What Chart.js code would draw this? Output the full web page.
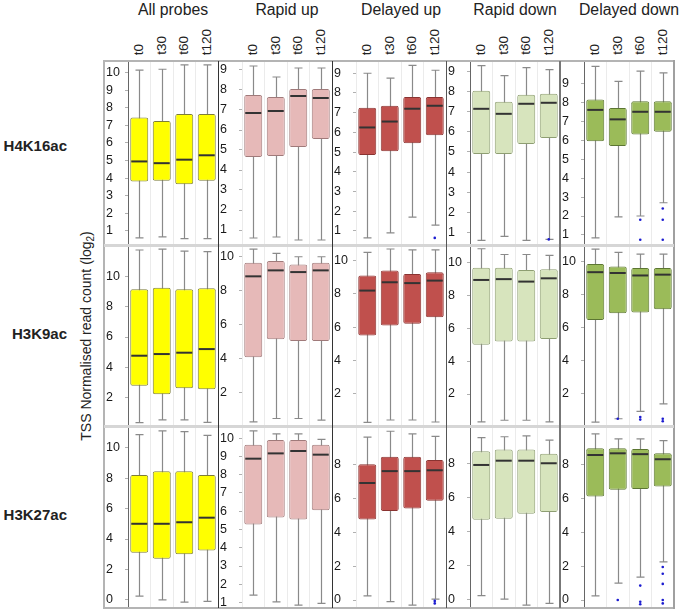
<!DOCTYPE html>
<html>
<head>
<meta charset="utf-8">
<script src="https://cdn.jsdelivr.net/npm/chart.js@4.4.1/dist/chart.umd.min.js"></script>
<style>
 body{margin:0;background:#fff;}
 #fig{position:relative;width:685px;height:612px;font-family:"Liberation Sans",Arial,sans-serif;color:#222;overflow:hidden;}
 #fig canvas{position:absolute;}
 .ln{position:absolute;z-index:5;}
 .title{position:absolute;top:1px;font-size:15.8px;transform:translateX(-50%);white-space:nowrap;}
 .time{position:absolute;bottom:557px;font-size:13.5px;line-height:14px;writing-mode:vertical-rl;transform:rotate(180deg);white-space:nowrap;}
 .mark{position:absolute;right:618px;font-size:15px;font-weight:bold;transform:translateY(-50%);white-space:nowrap;}
 .ytitle{position:absolute;left:87px;top:336px;font-size:14px;transform:translate(-50%,-50%) rotate(-90deg);white-space:nowrap;}
</style>
</head>
<body>
<div id="fig"></div>
<script>
const groups=["All probes","Rapid up","Delayed up","Rapid down","Delayed down"];
const marks=["H4K16ac","H3K9ac","H3K27ac"];
const times=["t0","t30","t60","t120"];

// [min, q1, median, q3, max] per time point
const h4k16acAll=[[0.6,3.8,4.95,7.45,10.15],[0.65,3.85,4.85,7.25,10.2],[0.55,3.65,5.05,7.65,10.45],[0.55,3.85,5.3,7.65,10.45]];
const h4k16acRapidUp=[[0.6,4.65,6.85,7.75,9.2],[0.65,4.7,6.95,7.65,8.65],[0.5,5.15,7.7,8.05,9.1],[0.5,5.55,7.6,8.05,9.1]];
const h4k16acDelayedUp=[[0.65,4.85,6.25,7.25,9.0],[0.9,5.05,6.55,7.35,8.75],[1.7,5.45,7.2,7.8,9.4],[1.3,5.85,7.35,7.8,9.15]];
const h4k16acRapidDown=[[0.6,4.9,7.15,8.05,9.3],[0.8,4.9,6.9,7.5,8.8],[0.6,5.4,7.4,7.85,9.2],[0.65,5.7,7.45,7.9,9.1]];
const h4k16acDelayedDown=[[0.85,5.95,7.6,8.15,9.9],[1.95,5.7,7.1,7.7,9.1],[2.0,6.3,7.5,8.05,9.65],[2.7,6.45,7.5,8.05,9.55]];

const h3k9acAll=[[0.32,2.77,4.76,9.16,11.77],[0.5,2.2,4.87,9.27,11.83],[0.5,2.6,4.96,9.16,11.7],[0.34,2.53,5.2,9.23,11.66]];
const h3k9acRapidUp=[[0.3,4.1,8.85,9.65,10.45],[0.5,5.15,9.2,9.75,10.2],[0.5,5.05,9.1,9.55,10.0],[0.4,5.05,9.2,9.65,10.0]];
const h3k9acDelayedUp=[[0.28,5.5,8.2,9.1,10.5],[0.42,6.1,8.7,9.4,10.7],[0.42,6.2,8.65,9.2,10.65],[0.3,6.6,8.8,9.3,10.65]];
const h3k9acRapidDown=[[0.3,5.0,8.95,9.7,10.85],[0.4,5.2,9.0,9.7,10.5],[0.4,5.2,8.85,9.55,10.5],[0.3,5.35,9.05,9.6,10.45]];
const h3k9acDelayedDown=[[0.25,6.45,9.35,9.85,10.75],[0.45,6.85,9.3,9.7,10.55],[0.9,6.9,9.15,9.6,10.45],[1.35,7.1,9.2,9.6,10.45]];

const h3k27acAll=[[0.25,3.1,5.0,8.2,10.85],[0.0,2.7,5.0,8.45,11.1],[-0.15,3.0,5.1,8.45,11.05],[-0.1,3.25,5.4,8.2,10.8]];
const h3k27acRapidUp=[[1.41,5.28,8.88,9.64,10.4],[1.04,5.66,9.17,9.9,10.24],[0.86,5.55,9.3,9.9,10.24],[0.95,6.06,9.1,9.64,9.94]];
const h3k27acDelayedUp=[[0.25,4.75,6.9,8.0,9.6],[-0.1,5.25,7.6,8.45,9.95],[-0.3,5.4,7.6,8.45,9.8],[0.05,5.85,7.65,8.25,9.65]];
const h3k27acRapidDown=[[0.25,4.7,7.9,8.7,9.5],[0.05,4.75,8.15,8.8,9.55],[-0.3,5.05,8.15,8.8,9.6],[-0.2,5.15,8.0,8.55,9.35]];
const h3k27acDelayedDown=[[0.25,6.1,8.55,8.95,9.8],[1.0,6.5,8.65,8.95,9.5],[1.35,6.55,8.6,8.9,9.5],[2.25,6.7,8.3,8.65,9.4]];

// outliers per group, per time point
const h4k16acOut=[[[],[],[],[]],[[],[],[],[]],[[],[],[],[0.65]],[[],[],[],[0.65]],[[],[],[1.8,0.75],[2.4,1.8,0.75]]];
const h3k9acOut=[[[],[],[],[]],[[],[],[],[]],[[],[],[],[]],[[],[],[],[]],[[],[0.45],[0.55,0.4],[0.45,0.3]]];
const h3k27acOut=[[[],[],[],[]],[[],[],[],[]],[[],[],[],[-0.05,-0.2]],[[],[],[],[]],[[],[0.0],[0.85,-0.1,-0.25],[1.95,1.55,0.95,0.0,-0.2]]];

// y tick labels and axis limits per panel
const h4k16acTicks=[[1,2,3,4,5,6,7,8,9,10],[1,2,3,4,5,6,7,8,9],[1,2,3,4,5,6,7,8,9],[1,2,3,4,5,6,7,8,9],[1,2,3,4,5,6,7,8,9]];
const h3k9acTicks=[[2,4,6,8,10],[2,4,6,8,10],[2,4,6,8,10],[2,4,6,8,10],[2,4,6,8,10]];
const h3k27acTicks=[[0,2,4,6,8,10],[1,2,3,4,5,6,7,8,9,10],[0,2,4,6,8],[0,2,4,6,8],[0,2,4,6,8]];
const h4k16acLim=[[0.19,10.67],[0.25,9.45],[0.29,9.62],[0.37,9.53],[0.47,10.18]];
const h3k9acLim=[[0.1,12.1],[0.06,10.69],[0.06,10.94],[0.05,11.08],[0.01,11.0]];
const h3k27acLim=[[-0.53,11.42],[0.7,10.67],[-0.47,10.26],[-0.47,10.18],[-0.47,10.26]];

const rows=[
 {stats:[h4k16acAll,h4k16acRapidUp,h4k16acDelayedUp,h4k16acRapidDown,h4k16acDelayedDown],out:h4k16acOut,ticks:h4k16acTicks,lim:h4k16acLim},
 {stats:[h3k9acAll,h3k9acRapidUp,h3k9acDelayedUp,h3k9acRapidDown,h3k9acDelayedDown],out:h3k9acOut,ticks:h3k9acTicks,lim:h3k9acLim},
 {stats:[h3k27acAll,h3k27acRapidUp,h3k27acDelayedUp,h3k27acRapidDown,h3k27acDelayedDown],out:h3k27acOut,ticks:h3k27acTicks,lim:h3k27acLim}
];

const fills=["#ffff00","#e6b9b8","#c0504d","#d7e4bd","#9bbb59"];
const edges=["#7d7d3a","#a07a7a","#8a3331","#8e9e72","#5c7632"];
const axisLine=[true,false,false,true,true];
const colX=[104,218,332,446,560], colW=114;
const rowY=[61,245,426], rowB=[245,426,608], markY=[145,333,514];
const fig=document.getElementById("fig");

const boxPlot={
 id:"boxPlot",
 beforeDatasetsDraw(chart){
  const ds=chart.data.datasets[0], meta=chart.getDatasetMeta(0), y=chart.scales.y, ctx=chart.ctx;
  ctx.save(); ctx.strokeStyle="#8a8a8a"; ctx.lineWidth=1.2;
  ds.stats.forEach((s,i)=>{
   const x=Math.round(meta.data[i].x)+0.5, lo=y.getPixelForValue(s[0]), hi=y.getPixelForValue(s[4]);
   ctx.beginPath();
   ctx.moveTo(x,lo); ctx.lineTo(x,hi);
   ctx.moveTo(x-4,lo); ctx.lineTo(x+4,lo);
   ctx.moveTo(x-4,hi); ctx.lineTo(x+4,hi);
   ctx.stroke();
  });
  ctx.restore();
 },
 afterDatasetsDraw(chart){
  const ds=chart.data.datasets[0], meta=chart.getDatasetMeta(0), y=chart.scales.y, ctx=chart.ctx;
  ctx.save();
  ds.stats.forEach((s,i)=>{
   const el=meta.data[i], m=y.getPixelForValue(s[2]);
   ctx.strokeStyle="#333"; ctx.lineWidth=2;
   ctx.beginPath(); ctx.moveTo(el.x-el.width/2+1,m); ctx.lineTo(el.x+el.width/2-1,m); ctx.stroke();
   ctx.fillStyle="#1c1cd0";
   ds.outliers[i].forEach(v=>{ ctx.beginPath(); ctx.arc(el.x,y.getPixelForValue(v),1.3,0,Math.PI*2); ctx.fill(); });
  });
  ctx.restore();
 }
};

function addDiv(cls,css,html){
 const d=document.createElement("div"); d.className=cls; d.style.cssText=css; if(html!=null) d.innerHTML=html; fig.appendChild(d); return d;
}

rows.forEach((r,ri)=>{
 groups.forEach((g,gi)=>{
  const cv=document.createElement("canvas");
  const h=rowB[ri]-rowY[ri];
  cv.width=colW; cv.height=h;
  cv.style.left=colX[gi]+"px"; cv.style.top=rowY[ri]+"px";
  fig.appendChild(cv);
  const st=r.stats[gi], yt=r.ticks[gi];
  const chart=new Chart(cv,{
   type:"bar",
   data:{labels:times,datasets:[{
    data:st.map(s=>[s[1],s[3]]),
    stats:st, outliers:r.out[gi],
    backgroundColor:fills[gi], borderColor:edges[gi], borderWidth:1, borderSkipped:false, borderRadius:2,
    barPercentage:0.8, categoryPercentage:1
   }]},
   options:{
    responsive:false, animation:false, events:[],
    layout:{padding:{left:2,right:0,top:0,bottom:0}},
    plugins:{legend:{display:false},tooltip:{enabled:false}},
    scales:{
     x:{ticks:{display:false},grid:{offset:true,color:"#ebebeb",drawTicks:false},border:{display:false},
        afterFit:s=>{s.height=0;}},
     y:{min:r.lim[gi][0],max:r.lim[gi][1],
        afterBuildTicks:s=>{s.ticks=yt.map(v=>({value:v}));},
        afterFit:s=>{s.width=22;s.paddingTop=0;s.paddingBottom=0;},
        ticks:{crossAlign:"far",autoSkip:false,color:"#1a1a1a",font:{family:"Liberation Sans",size:12.5}},
        grid:{drawOnChartArea:false,tickLength:3,tickColor:"#b0b0b0"},
        border:{display:axisLine[gi],color:"#666",width:1}}
    }
   },
   plugins:[boxPlot]
  });
  if(ri===0){
   const ca=chart.chartArea;
   addDiv("title","left:"+(colX[gi]+(ca.left+ca.right)/2)+"px;",g);
   times.forEach((t,ti)=>{
    const cx=colX[gi]+chart.scales.x.getPixelForValue(ti);
    addDiv("time","left:"+(cx-7)+"px;",t);
   });
  }
 });
 addDiv("mark","top:"+markY[ri]+"px;",marks[ri]);
});

addDiv("ytitle","","TSS Normalised read count (log<sub style=\"font-size:10px\">2</sub>)");

// panel frame
addDiv("ln","left:104px;top:60px;width:570px;height:2px;background:#b4b4b4;");
addDiv("ln","left:104px;top:607px;width:570px;height:2px;background:#b4b4b4;");
addDiv("ln","left:103px;top:60px;width:2px;height:549px;background:#b4b4b4;");
addDiv("ln","left:673px;top:60px;width:2px;height:549px;background:#a0a0a0;");
addDiv("ln","left:104px;top:244px;width:570px;height:3px;background:#d6d6d6;");
addDiv("ln","left:104px;top:425px;width:570px;height:3px;background:#d6d6d6;");
addDiv("ln","left:218px;top:61px;width:1px;height:547px;background:#333;");
addDiv("ln","left:332px;top:61px;width:1px;height:547px;background:#333;");
addDiv("ln","left:446px;top:61px;width:1px;height:547px;background:#555;");
addDiv("ln","left:559px;top:61px;width:2px;height:547px;background:#777;");
</script>
</body>
</html>
